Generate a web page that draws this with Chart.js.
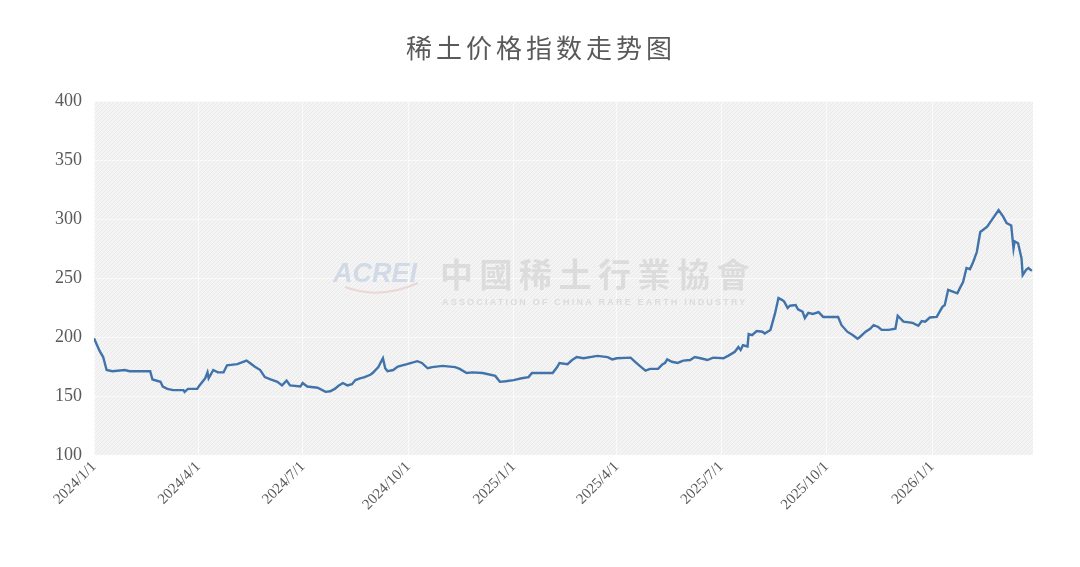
<!DOCTYPE html>
<html>
<head>
<meta charset="utf-8">
<script src="https://cdn.jsdelivr.net/npm/chart.js@4/dist/chart.umd.min.js"></script>
<style>
    body { margin: 0; background: #ffffff; }
    #wrap { width: 1080px; height: 567px; }
</style>
</head>
<body>
<div id="wrap"><canvas id="chart" width="1080" height="567"></canvas></div>
<script>
const title = "稀土价格指数走势图"

const tickLabels = ["2024/1/1", "2024/4/1", "2024/7/1", "2024/10/1", "2025/1/1",
    "2025/4/1", "2025/7/1", "2025/10/1", "2026/1/1"]

const yTicks = [100, 150, 200, 250, 300, 350, 400]

const dates2024 = ["2024/1/1", "2024/1/6", "2024/1/9", "2024/1/12", "2024/1/17", "2024/1/28",
    "2024/2/1", "2024/2/19", "2024/2/21", "2024/2/28",
    "2024/3/1", "2024/3/5", "2024/3/10", "2024/3/19", "2024/3/20", "2024/3/23", "2024/3/31",
    "2024/4/2", "2024/4/7", "2024/4/9", "2024/4/10", "2024/4/14", "2024/4/18", "2024/4/23", "2024/4/26",
    "2024/5/5", "2024/5/13", "2024/5/16", "2024/5/20", "2024/5/25", "2024/5/29",
    "2024/6/3", "2024/6/9", "2024/6/13", "2024/6/17", "2024/6/20", "2024/6/29",
    "2024/7/1", "2024/7/5", "2024/7/14", "2024/7/21", "2024/7/25", "2024/7/29",
    "2024/8/1", "2024/8/5", "2024/8/9", "2024/8/13", "2024/8/16", "2024/8/20", "2024/8/24", "2024/8/29", "2024/8/31",
    "2024/9/5", "2024/9/9", "2024/9/11", "2024/9/13", "2024/9/18", "2024/9/22", "2024/9/30",
    "2024/10/9", "2024/10/13", "2024/10/18", "2024/10/22", "2024/10/31",
    "2024/11/11", "2024/11/15", "2024/11/21", "2024/11/26",
    "2024/12/5", "2024/12/16", "2024/12/20", "2024/12/25"]
const values2024 = [199, 188, 183, 172, 171, 172,
    171, 171, 164, 162,
    158, 156, 155, 155, 153.5, 156, 156,
    159, 165, 170, 165, 172, 170, 170, 176,
    177, 180, 178, 175, 172, 166,
    164, 162, 159, 163, 159, 158,
    161, 158, 157, 153.5, 154, 156,
    158.5, 161, 159, 160, 163.5, 165, 166, 168, 169.5,
    174.5, 182, 173.5, 171, 172, 175, 177,
    179.5, 178, 173.5, 174.5, 175.5,
    174.5, 173, 169.5, 170,
    169.5, 167, 162, 162.5]

const dates2025 = ["2025/1/1", "2025/1/8", "2025/1/14", "2025/1/17",
    "2025/2/4", "2025/2/8", "2025/2/10", "2025/2/17", "2025/2/21", "2025/2/25",
    "2025/3/3", "2025/3/15", "2025/3/24", "2025/3/28",
    "2025/4/1", "2025/4/13", "2025/4/17", "2025/4/21", "2025/4/26", "2025/4/30",
    "2025/5/7", "2025/5/11", "2025/5/13", "2025/5/15", "2025/5/19", "2025/5/24", "2025/5/29",
    "2025/6/4", "2025/6/8", "2025/6/13", "2025/6/19", "2025/6/24",
    "2025/7/3", "2025/7/7", "2025/7/13", "2025/7/16", "2025/7/18", "2025/7/20", "2025/7/24", "2025/7/25", "2025/7/28",
    "2025/8/1", "2025/8/6", "2025/8/8", "2025/8/13", "2025/8/17", "2025/8/20", "2025/8/23", "2025/8/25", "2025/8/28", "2025/8/30",
    "2025/9/4", "2025/9/6", "2025/9/10", "2025/9/12", "2025/9/15", "2025/9/19", "2025/9/24", "2025/9/28",
    "2025/10/11", "2025/10/14", "2025/10/19", "2025/10/24", "2025/10/28", "2025/10/30",
    "2025/11/4", "2025/11/8", "2025/11/11", "2025/11/15", "2025/11/18", "2025/11/24", "2025/11/30",
    "2025/12/2", "2025/12/7", "2025/12/15", "2025/12/20", "2025/12/23", "2025/12/26", "2025/12/30"]
const values2025 = [163.5, 165, 166, 169.5,
    169.5, 174.5, 178, 177, 180.5, 183,
    182, 184, 183, 181,
    182, 182.5, 179, 175.5, 171.5, 173,
    173, 177, 178, 181, 179, 178, 180,
    180.5, 183, 182, 180.5, 182.5,
    182, 184, 187.5, 191.5, 189, 193, 192, 202.5, 201.5,
    205, 204.5, 203, 206, 220, 233, 231.5, 230, 224.5, 226.5,
    227, 223.5, 221.5, 216, 220.5, 219.5, 221, 217,
    217, 210, 204.5, 201.5, 198.5, 200,
    204.5, 207, 210, 208.5, 206, 206, 207,
    218, 213, 212, 209.5, 213.5, 213, 216.5]

const dates2026 = ["2026/1/5", "2026/1/10", "2026/1/12", "2026/1/15", "2026/1/19", "2026/1/23", "2026/1/25", "2026/1/28", "2026/1/31",
    "2026/2/3", "2026/2/6", "2026/2/9", "2026/2/12", "2026/2/14", "2026/2/18", "2026/2/23", "2026/2/28",
    "2026/3/4", "2026/3/7", "2026/3/11", "2026/3/13", "2026/3/14", "2026/3/17", "2026/3/20", "2026/3/21", "2026/3/24", "2026/3/26", "2026/3/29"]
const values2026 = [217, 225.5, 227, 240, 238.5, 237, 241, 246.5, 258.5,
    257.5, 264, 272, 289, 290.5, 293.5, 300.5, 307.5,
    302, 296.5, 294.5, 275, 281, 279.5, 266.5, 252.5, 257, 258.5, 256]

const lastDay = "2026/3/30"

// days since 2024/1/1, used as the x value of the linear scale
function dayOf(s) {
    const [y, m, d] = s.split("/").map(Number)
    return (Date.UTC(y, m - 1, d) - Date.UTC(2024, 0, 1)) / 86400000
}

const dates = dates2024.concat(dates2025, dates2026)
const values = values2024.concat(values2025, values2026)
const points = dates.map((d, i) => ({ x: dayOf(d), y: values[i] }))
const tickDays = tickLabels.map(dayOf)

const textColor = "#5a5a5a"

function makeHatch(ctx) {
    const c = document.createElement("canvas")
    c.width = 4
    c.height = 4
    const g = c.getContext("2d")
    g.fillStyle = "#f4f4f4"
    g.fillRect(0, 0, 4, 4)
    g.strokeStyle = "#e9e9e9"
    g.lineWidth = 1
    g.beginPath()
    g.moveTo(0, 4)
    g.lineTo(4, 0)
    g.stroke()
    return ctx.createPattern(c, "repeat")
}

const decorations = {
    id: "decorations",
    beforeDraw(chart) {
        const { ctx, chartArea: a } = chart
        ctx.save()
        ctx.fillStyle = makeHatch(ctx)
        ctx.fillRect(a.left, a.top, a.right - a.left, a.bottom - a.top)
        ctx.restore()
    },
    beforeDatasetsDraw(chart) {
        const ctx = chart.ctx
        ctx.save()
        // watermark of the source
        ctx.textBaseline = "middle"
        ctx.fillStyle = "rgba(186, 202, 222, 0.6)"
        ctx.font = "italic bold 27px 'Liberation Sans'"
        ctx.fillText("ACREI", 333, 275)
        ctx.strokeStyle = "rgba(225, 175, 175, 0.4)"
        ctx.lineWidth = 2
        ctx.beginPath()
        ctx.moveTo(345, 287)
        ctx.quadraticCurveTo(380, 300, 418, 283)
        ctx.stroke()
        ctx.fillStyle = "rgba(205, 205, 205, 0.6)"
        ctx.font = "bold 33px 'Noto Sans CJK TC'"
        const zh = "中國稀土行業協會"
        for (let i = 0; i < zh.length; i++) {
            ctx.fillText(zh[i], 440 + i * 39.5, 274)
        }
        ctx.font = "bold 9px 'Liberation Sans'"
        ctx.letterSpacing = "2.2px"
        ctx.fillText("ASSOCIATION OF CHINA RARE EARTH INDUSTRY", 442, 303)
        ctx.restore()
    },
    afterDraw(chart) {
        const ctx = chart.ctx
        ctx.save()
        ctx.fillStyle = textColor
        ctx.font = "26px 'Noto Sans CJK SC'"
        ctx.letterSpacing = "4px"
        ctx.textAlign = "center"
        ctx.textBaseline = "middle"
        ctx.fillText(title, 541, 48)
        ctx.restore()
    }
}

new Chart(document.getElementById("chart"), {
    type: "line",
    data: {
        datasets: [{
            data: points,
            borderColor: "#4173ab",
            borderWidth: 2.4,
            pointRadius: 0,
            tension: 0,
        }]
    },
    options: {
        responsive: false,
        animation: false,
        devicePixelRatio: 1,
        layout: { padding: { left: 0, right: 47, top: 101, bottom: 0 } },
        plugins: {
            legend: { display: false },
            tooltip: { enabled: false },
        },
        scales: {
            x: {
                type: "linear",
                min: 0,
                max: dayOf(lastDay),
                afterBuildTicks: scale => {
                    scale.ticks = tickDays.map(v => ({ value: v }))
                },
                afterFit: scale => { scale.height = 112 },
                ticks: {
                    color: textColor,
                    font: { family: "'Liberation Serif'", size: 15 },
                    minRotation: 45,
                    maxRotation: 45,
                    padding: 3,
                    callback: v => tickLabels[tickDays.indexOf(v)],
                },
                grid: { color: "rgba(255,255,255,0.6)", lineWidth: 1, drawTicks: false },
                border: { display: false },
            },
            y: {
                min: 100,
                max: 400,
                afterBuildTicks: scale => {
                    scale.ticks = yTicks.map(v => ({ value: v }))
                },
                afterFit: scale => { scale.width = 94 },
                ticks: {
                    color: textColor,
                    font: { family: "'Liberation Serif'", size: 18 },
                    padding: 12,
                },
                grid: { color: "rgba(255,255,255,0.6)", lineWidth: 1, drawTicks: false },
                border: { display: false },
            },
        },
    },
    plugins: [decorations],
})
</script>
</body>
</html>
